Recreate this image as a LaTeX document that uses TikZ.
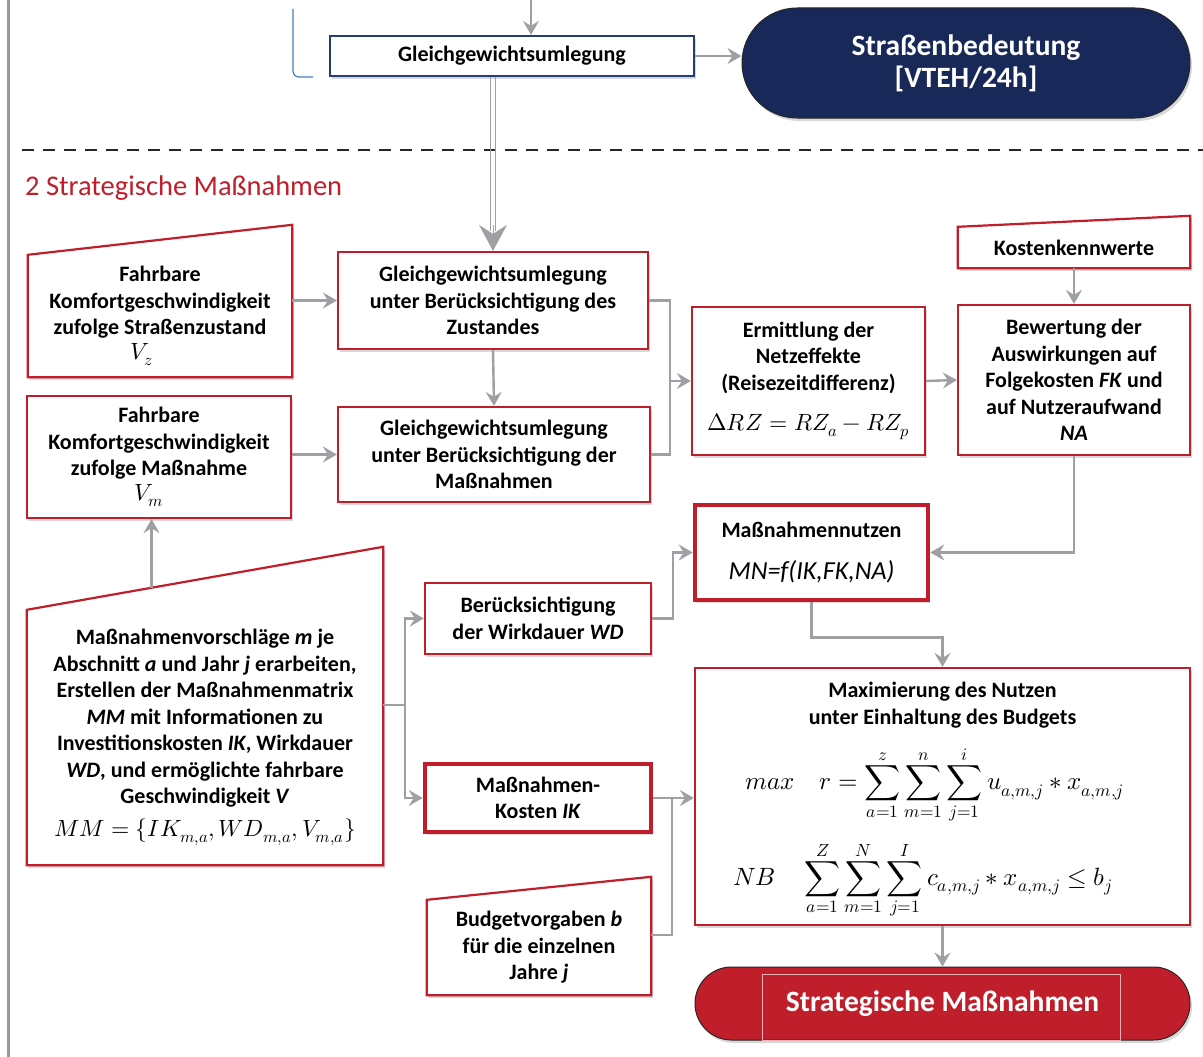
\documentclass[tikz,border=0pt]{standalone}
\usepackage{unicode-math}
\setmainfont{Carlito}
\setmathfont{Latin Modern Math}
\usetikzlibrary{arrows.meta,shapes.misc,shadows,calc,backgrounds}

\definecolor{boxred}{RGB}{192,30,42}
\definecolor{navy}{RGB}{24,40,88}
\definecolor{navyline}{RGB}{36,62,112}
\definecolor{arrgray}{RGB}{160,160,164}
\definecolor{bracketblue}{RGB}{74,126,187}

\newcommand\boxfnt{\fontsize{22}{26.5}\selectfont\bfseries}
\newcommand\bigmath{\fontsize{23.5}{28}\selectfont}

\tikzset{
  conn/.style={draw=arrgray, line width=2.4pt},
  arr/.style={conn, -{Stealth[length=14pt,width=16pt,inset=5pt]}},
  shad/.style={drop shadow={shadow xshift=2pt,shadow yshift=-3pt,opacity=0.28,fill=black!55}},
  redbox/.style={draw=boxred, line width=2.2pt, fill=white, inner sep=0pt,
    align=center, font=\boxfnt, shad},
  thickbox/.style={redbox, line width=4.6pt},
  mitext/.style={inner sep=0pt, align=center, font=\boxfnt},
  miline/.style={draw=boxred, line width=2.2pt, fill=white, shad, line join=miter},
  pill/.style={rounded rectangle, draw=black!85, line width=1pt, shad,
    text=white, align=center, inner sep=0pt,
    font=\fontsize{29.5}{33}\selectfont\bfseries},
}

\begin{document}
\begin{tikzpicture}[x=1pt,y=-1pt]
\useasboundingbox (0,0) rectangle (1203,1057);

% margin rule and section separator
\draw[line width=3pt, black!40] (8,0) -- (8,1057);
\draw[line width=2.8pt, black!85, dash pattern=on 12pt off 9pt] (22,150) -- (1203,150);
\node[anchor=west, text=boxred, inner sep=0pt, font=\fontsize{28.5}{32}\selectfont]
  (title) at (25,188) {2 Strategische Maßnahmen};

% upper part
\draw[bracketblue, line width=1.2pt, rounded corners=6pt] (293,9) -- (293,77) -- (313,77);
\node[draw=navyline, line width=2.2pt, fill=white, shad, inner sep=0pt, font=\boxfnt,
  minimum width=364pt, minimum height=40pt] (GG) at (512,56) {Gleichgewichtsumlegung};
\node[pill, fill=navy, minimum width=448pt, minimum height=110pt] (SB) at (966,63)
  {Straßenbedeutung\\[-1pt][VTEH/24h]};
\coordinate (topin) at (531,0);

% boxes of the strategic part
\node[mitext, minimum width=264pt, minimum height=122pt] (A) at (160,316)
  {Fahrbare\\Komfortgeschwindigkeit\\zufolge Straßenzustand\\[-2pt]{\bigmath$V_z$}\hspace*{36pt}};
\node[redbox, minimum width=310pt, minimum height=97pt] (B) at (493,300.5)
  {Gleichgewichtsumlegung\\unter Berücksichtigung des\\Zustandes};
\node[redbox, minimum width=264pt, minimum height=122pt] (C) at (159,457)
  {Fahrbare\\Komfortgeschwindigkeit\\zufolge Maßnahme\\[-2pt]{\bigmath$V_m$}\hspace*{20pt}};
\node[redbox, minimum width=312pt, minimum height=95pt] (D) at (494,454.5)
  {Gleichgewichtsumlegung\\unter Berücksichtigung der\\Maßnahmen};
\node[redbox, minimum width=233pt, minimum height=148pt] (E) at (808.5,381)
  {Ermittlung der\\Netzeffekte\\(Reisezeitdifferenz)\\[14pt]{\bigmath$\Delta RZ=RZ_a-RZ_p$}};
\node[mitext, minimum width=232pt, minimum height=41pt] (K) at (1074,247.5) {Kostenkennwerte};
\node[redbox, minimum width=232pt, minimum height=150pt] (F) at (1074,380)
  {Bewertung der\\Auswirkungen auf\\Folgekosten \textit{FK} und\\auf Nutzeraufwand\\\textit{NA}};
\node[thickbox, minimum width=233pt, minimum height=95pt] (MN) at (811.5,552.5)
  {Maßnahmennutzen\\[16pt]{\fontsize{26}{30}\selectfont\mdseries\itshape MN=f(IK,FK,NA)}};
\node[mitext, minimum width=356pt, minimum height=255pt] (G) at (205,737.5)
  {Maßnahmenvorschläge \textit{m} je\\Abschnitt \textit{a} und Jahr \textit{j} erarbeiten,\\
   Erstellen der Maßnahmenmatrix\\\textit{MM} mit Informationen zu\\
   Investitionskosten \textit{IK}, Wirkdauer\\\textit{WD}, und ermöglichte fahrbare\\
   Geschwindigkeit \textit{V}\\[6pt]{\bigmath$MM=\{IK_{m,a},WD_{m,a},V_{m,a}\}$}};
\node[redbox, minimum width=226pt, minimum height=71pt] (H) at (538,618.5)
  {Berücksichtigung\\der Wirkdauer \textit{WD}};
\node[thickbox, minimum width=226pt, minimum height=68pt] (I) at (538,798)
  {Maßnahmen-\\Kosten \textit{IK}};
\node[mitext, minimum width=224pt, minimum height=95pt] (J) at (539,947.5)
  {Budgetvorgaben \textit{b}\\für die einzelnen\\Jahre \textit{j}};
\node[redbox, minimum width=495pt, minimum height=257pt] (Max) at (942.5,796.5) {};
\node[mitext] (MaxT) at (942.5,705) {Maximierung des Nutzen\\unter Einhaltung des Budgets};
\node[inner sep=0pt, anchor=west, font=\fontsize{25}{30}\selectfont] (MaxF1) at (745,785)
  {$\displaystyle max\quad r=\sum_{a=1}^{z}\sum_{m=1}^{n}\sum_{j=1}^{i}u_{a,m,j}*x_{a,m,j}$};
\node[inner sep=0pt, anchor=west, font=\fontsize{25}{30}\selectfont] (MaxF2) at (733,880)
  {$\displaystyle NB\quad\sum_{a=1}^{Z}\sum_{m=1}^{N}\sum_{j=1}^{I}c_{a,m,j}*x_{a,m,j}\le b_j$};
\node[pill, fill=boxred, minimum width=495pt, minimum height=73pt] (RS) at (942.5,1003.5)
  {Strategische Maßnahmen};
\draw[white!65!boxred, line width=0.6pt]
  ($(RS.north)+(-180,8)$) rectangle ($(RS.south)+(178,0)$);

% input shapes with slanted top edge
\begin{scope}[on background layer]
\draw[miline] (A.south west) -- (A.south east) -- ($(A.north east)+(0,-30)$)
  -- (A.north west) -- cycle;
\draw[miline] (K.south west) -- (K.south east) -- ($(K.north east)+(0,-11)$)
  -- (K.north west) -- cycle;
\draw[miline] (G.south west) -- (G.south east) -- ($(G.north east)+(0,-63)$)
  -- (G.north west) -- cycle;
\draw[miline] (J.south west) -- (J.south east) -- ($(J.north east)+(0,-23)$)
  -- (J.north west) -- cycle;
\end{scope}

% connectors
\draw[arr] (topin) -- (topin |- GG.north);
\draw[arr] (GG.east) -- (GG.east -| SB.west);
\draw[arrgray, line width=1pt] ($(GG.south -| B.north)+(-2.2,0)$) -- ($(B.north)+(-2.2,-20)$);
\draw[arrgray, line width=1pt] ($(GG.south -| B.north)+(2.2,0)$) -- ($(B.north)+(2.2,-20)$);
\draw[arrgray, line width=1pt, -{Stealth[length=26pt,width=28pt,inset=9pt]}]
  ($(B.north)+(0,-26)$) -- (B.north);

\draw[arr] (B.west -| A.east) -- (B.west);
\draw[arr] (C.east |- D.west) -- (D.west);
\draw[arr] (B.south) -- (D.north);
\coordinate (j1) at (670,0);
\draw[conn] (B.east) -- (B.east -| j1) |- (D.east);
\draw[arr] (E.west -| j1) -- (E.west);
\draw[arr] (E.east) -- (F.west);
\draw[arr] (K.south) -- (F.north);
\draw[arr] (F.south) |- (MN.east);
\draw[arr] (MN.south) -- ++(0,35) -| (Max.north);
\draw[arr] (Max.south) -- (RS.north);

\coordinate (gup) at ($(G.north west)!0.35!($(G.north east)+(0,-63)$)$);
\draw[arr] (gup) -- (gup |- C.south);
\coordinate (gj) at (405,705);
\draw[conn] (gj -| G.east) -- (gj);
\draw[arr] (gj) |- (H.west);
\draw[arr] (gj) |- (I.west);
\draw[arr] (H.east) -- ++(21,0) |- (MN.west);
\draw[arr] (I.east) -- (I.east -| Max.west);
\coordinate (jj) at (672,935);
\draw[conn] (jj -| J.east) -- (jj) -- (jj |- I.east);
\end{tikzpicture}
\end{document}
